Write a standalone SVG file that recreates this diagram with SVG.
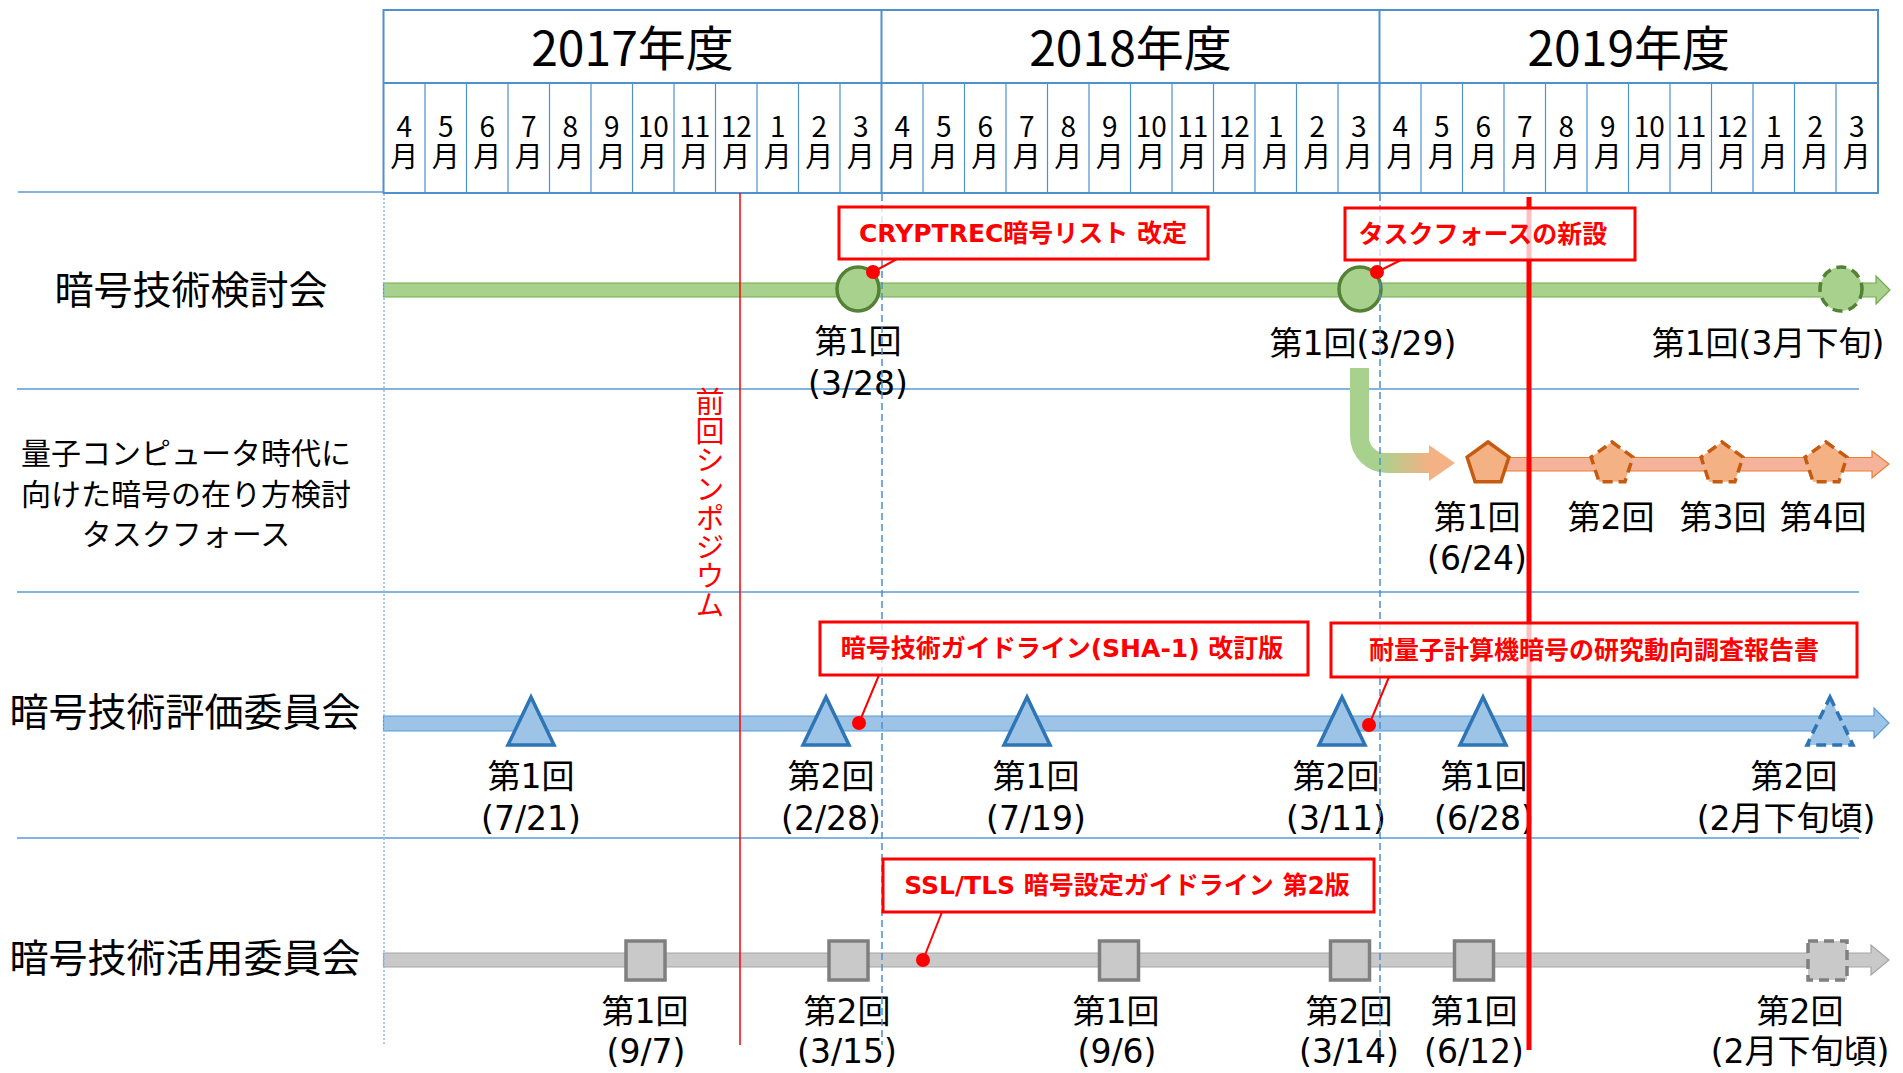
<svg xmlns="http://www.w3.org/2000/svg" width="1903" height="1073" viewBox="0 0 1903 1073">
<defs>
<style>
.hd{font-family:"Noto Sans CJK JP",sans-serif;fill:#000}
.yr{font-size:48px;text-anchor:middle}
.mo{font-size:28px;text-anchor:middle}
.ttl{font-family:"Noto Sans CJK JP",sans-serif;font-size:39px;text-anchor:middle;fill:#000}
.ttl2{font-family:"Noto Sans CJK JP",sans-serif;font-size:30px;text-anchor:middle;fill:#000}
.lb{font-family:"DejaVu Sans","Noto Sans CJK JP",sans-serif;font-size:33px;text-anchor:middle;fill:#000}
.co{font-family:"DejaVu Sans","Noto Sans CJK JP",sans-serif;font-size:25px;font-weight:bold;text-anchor:middle;fill:#ff0000}
.box{fill:#ffffff;fill-opacity:0.75;stroke:#ff0000;stroke-width:3}
.ptr{stroke:#ff0000;stroke-width:2;fill:none}
.dot{fill:#ff0000}
.grid{stroke:#4f90cf;fill:none}
.sep{stroke:#5b9bd5;stroke-width:1.6;fill:none}
.cir{fill:#a9d18e;stroke:#548235;stroke-width:3.5}
.pen{fill:#f4b183;stroke:#c55a11;stroke-width:3.5}
.tri{fill:#9dc3e6;stroke:#2e75b6;stroke-width:3.5}
.sq{fill:#c9c9c9;stroke:#7f7f7f;stroke-width:3.5}
.dsh{stroke-dasharray:10 6}
</style>
<linearGradient id="gArr" gradientUnits="userSpaceOnUse" x1="1380" y1="0" x2="1430" y2="0">
<stop offset="0" stop-color="#a9d18e"/>
<stop offset="1" stop-color="#f4b183"/>
</linearGradient>
<path id="pent" d="M0,-22 L20.9,-6.8 L12.9,17.8 L-12.9,17.8 L-20.9,-6.8 Z"/>
<path id="tri" d="M0,-48 L23,0 L-23,0 Z"/>
</defs>
<rect width="1903" height="1073" fill="#ffffff"/>

<g id="header">
<rect x="383.5" y="10" width="1494.5" height="183" class="grid" stroke-width="2"/>
<path class="grid" stroke-width="2" d="M383.5,83 H1878 M881.5,10 V193 M1379.5,10 V193"/>
<path class="grid" stroke-width="1.2" d="M425,83V193M466.5,83V193M508,83V193M549.5,83V193M591,83V193M632.5,83V193M674,83V193M715.5,83V193M757,83V193M798.5,83V193M840,83V193M923,83V193M964.5,83V193M1006,83V193M1047.5,83V193M1089,83V193M1130.5,83V193M1172,83V193M1213.5,83V193M1255,83V193M1296.5,83V193M1338,83V193M1421,83V193M1462.5,83V193M1504,83V193M1545.5,83V193M1587,83V193M1628.5,83V193M1670,83V193M1711.5,83V193M1753,83V193M1794.5,83V193M1836,83V193"/>
<g class="hd yr">
<text x="632.5" y="66">2017年度</text>
<text x="1130.5" y="66">2018年度</text>
<text x="1628.75" y="66">2019年度</text>
</g>
<g class="hd mo">
<text x="404.25" y="137">4<tspan x="404.25" dy="30">月</tspan></text>
<text x="445.75" y="137">5<tspan x="445.75" dy="30">月</tspan></text>
<text x="487.25" y="137">6<tspan x="487.25" dy="30">月</tspan></text>
<text x="528.75" y="137">7<tspan x="528.75" dy="30">月</tspan></text>
<text x="570.25" y="137">8<tspan x="570.25" dy="30">月</tspan></text>
<text x="611.75" y="137">9<tspan x="611.75" dy="30">月</tspan></text>
<text x="653.25" y="137">10<tspan x="653.25" dy="30">月</tspan></text>
<text x="694.75" y="137">11<tspan x="694.75" dy="30">月</tspan></text>
<text x="736.25" y="137">12<tspan x="736.25" dy="30">月</tspan></text>
<text x="777.75" y="137">1<tspan x="777.75" dy="30">月</tspan></text>
<text x="819.25" y="137">2<tspan x="819.25" dy="30">月</tspan></text>
<text x="860.75" y="137">3<tspan x="860.75" dy="30">月</tspan></text>
<text x="902.25" y="137">4<tspan x="902.25" dy="30">月</tspan></text>
<text x="943.75" y="137">5<tspan x="943.75" dy="30">月</tspan></text>
<text x="985.25" y="137">6<tspan x="985.25" dy="30">月</tspan></text>
<text x="1026.75" y="137">7<tspan x="1026.75" dy="30">月</tspan></text>
<text x="1068.25" y="137">8<tspan x="1068.25" dy="30">月</tspan></text>
<text x="1109.75" y="137">9<tspan x="1109.75" dy="30">月</tspan></text>
<text x="1151.25" y="137">10<tspan x="1151.25" dy="30">月</tspan></text>
<text x="1192.75" y="137">11<tspan x="1192.75" dy="30">月</tspan></text>
<text x="1234.25" y="137">12<tspan x="1234.25" dy="30">月</tspan></text>
<text x="1275.75" y="137">1<tspan x="1275.75" dy="30">月</tspan></text>
<text x="1317.25" y="137">2<tspan x="1317.25" dy="30">月</tspan></text>
<text x="1358.75" y="137">3<tspan x="1358.75" dy="30">月</tspan></text>
<text x="1400.25" y="137">4<tspan x="1400.25" dy="30">月</tspan></text>
<text x="1441.75" y="137">5<tspan x="1441.75" dy="30">月</tspan></text>
<text x="1483.25" y="137">6<tspan x="1483.25" dy="30">月</tspan></text>
<text x="1524.75" y="137">7<tspan x="1524.75" dy="30">月</tspan></text>
<text x="1566.25" y="137">8<tspan x="1566.25" dy="30">月</tspan></text>
<text x="1607.75" y="137">9<tspan x="1607.75" dy="30">月</tspan></text>
<text x="1649.25" y="137">10<tspan x="1649.25" dy="30">月</tspan></text>
<text x="1690.75" y="137">11<tspan x="1690.75" dy="30">月</tspan></text>
<text x="1732.25" y="137">12<tspan x="1732.25" dy="30">月</tspan></text>
<text x="1773.75" y="137">1<tspan x="1773.75" dy="30">月</tspan></text>
<text x="1815.25" y="137">2<tspan x="1815.25" dy="30">月</tspan></text>
<text x="1856.75" y="137">3<tspan x="1856.75" dy="30">月</tspan></text>
</g>
</g>

<g id="row-lines">
<path class="sep" stroke-width="2" d="M18,192 H383.5"/>
<path class="sep" d="M17,389 H1859 M17,592 H1859 M17,838 H1859"/>
</g>

<g id="row-titles">
<text class="ttl" x="191" y="304">暗号技術検討会</text>
<text class="ttl2" x="186" y="464">量子コンピュータ時代に</text>
<text class="ttl2" x="186" y="505">向けた暗号の在り方検討</text>
<text class="ttl2" x="186" y="545">タスクフォース</text>
<text class="ttl" x="185" y="726">暗号技術評価委員会</text>
<text class="ttl" x="185" y="972">暗号技術活用委員会</text>
</g>

<g id="connectors">
<path id="bar-kentokai" d="M383.5,283 H1876 V276 L1890,290 L1876,304 V297 H383.5 Z" fill="#a9d18e" stroke="#70ad47" stroke-width="1.2"/>
<path id="bend-arrow" d="M1350,368 H1369 V437 A16,16 0 0 0 1385,453 H1429 V445 L1455,463 L1429,481 V473 H1387 A37,37 0 0 1 1350,436 Z" fill="url(#gArr)"/>
<path id="bar-tf" d="M1490,457.5 H1872 V451 L1889,464 L1872,478 V471 H1490 Z" fill="#f4b39a" stroke="#ed7d31" stroke-width="1.2"/>
<path id="bar-hyoka" d="M383.5,716 H1874 V708 L1889,723 L1874,738 V731 H383.5 Z" fill="#9dc3e6" stroke="#5b9bd5" stroke-width="1.2"/>
<path id="bar-katsuyo" d="M383.5,953 H1871 V945 L1889,960 L1871,975 V967 H383.5 Z" fill="#c9c9c9" stroke="#a5a5a5" stroke-width="1.2"/>
</g>

<g id="kentokai-nodes">
<g id="k1"><ellipse class="cir" cx="858" cy="289" rx="21" ry="22"/>
<text class="lb" x="858" y="353">第1回</text><text class="lb" x="858" y="395">(3/28)</text></g>
<g id="k2"><ellipse class="cir" cx="1360" cy="289" rx="21" ry="22"/>
<text class="lb" x="1363" y="355">第1回(3/29)</text></g>
<g id="k3"><ellipse class="cir dsh" cx="1841" cy="289" rx="21" ry="22"/>
<text class="lb" x="1768" y="355">第1回(3月下旬)</text></g>
</g>

<g id="tf-nodes">
<g id="t1"><use href="#pent" class="pen" x="1488" y="464"/>
<text class="lb" x="1477" y="529">第1回</text><text class="lb" x="1477" y="570">(6/24)</text></g>
<g id="t2"><use href="#pent" class="pen dsh" x="1612" y="464"/><text class="lb" x="1611" y="529">第2回</text></g>
<g id="t3"><use href="#pent" class="pen dsh" x="1722" y="464"/><text class="lb" x="1723" y="529">第3回</text></g>
<g id="t4"><use href="#pent" class="pen dsh" x="1826" y="464"/><text class="lb" x="1823" y="529">第4回</text></g>
</g>

<g id="hyoka-nodes">
<g id="h1"><use href="#tri" class="tri" x="531" y="745"/><text class="lb" x="531" y="788">第1回</text><text class="lb" x="531" y="830">(7/21)</text></g>
<g id="h2"><use href="#tri" class="tri" x="826" y="745"/><text class="lb" x="831" y="788">第2回</text><text class="lb" x="831" y="830">(2/28)</text></g>
<g id="h3"><use href="#tri" class="tri" x="1027" y="745"/><text class="lb" x="1036" y="788">第1回</text><text class="lb" x="1036" y="830">(7/19)</text></g>
<g id="h4"><use href="#tri" class="tri" x="1342" y="745"/><text class="lb" x="1336" y="788">第2回</text><text class="lb" x="1336" y="830">(3/11)</text></g>
<g id="h5"><use href="#tri" class="tri" x="1483" y="745"/><text class="lb" x="1484" y="788">第1回</text><text class="lb" x="1484" y="830">(6/28)</text></g>
<g id="h6"><use href="#tri" class="tri dsh" x="1830" y="745"/><text class="lb" x="1794" y="788">第2回</text><text class="lb" x="1786" y="830">(2月下旬頃)</text></g>
</g>

<g id="katsuyo-nodes">
<g id="s1"><rect class="sq" x="626" y="941" width="39" height="39"/><text class="lb" x="645" y="1023">第1回</text><text class="lb" x="646" y="1063">(9/7)</text></g>
<g id="s2"><rect class="sq" x="829" y="941" width="39" height="39"/><text class="lb" x="847" y="1023">第2回</text><text class="lb" x="847" y="1063">(3/15)</text></g>
<g id="s3"><rect class="sq" x="1099.5" y="941" width="39" height="39"/><text class="lb" x="1116" y="1023">第1回</text><text class="lb" x="1117" y="1063">(9/6)</text></g>
<g id="s4"><rect class="sq" x="1330.5" y="941" width="39" height="39"/><text class="lb" x="1349" y="1023">第2回</text><text class="lb" x="1349" y="1063">(3/14)</text></g>
<g id="s5"><rect class="sq" x="1454.5" y="941" width="39" height="39"/><text class="lb" x="1474" y="1023">第1回</text><text class="lb" x="1474" y="1063">(6/12)</text></g>
<g id="s6"><rect class="sq dsh" x="1808" y="941" width="39" height="39"/><text class="lb" x="1800" y="1023">第2回</text><text class="lb" x="1800" y="1063">(2月下旬頃)</text></g>
</g>

<g id="guides">
<path d="M384,194 V1045" stroke="#8fbce6" stroke-width="1.5" stroke-dasharray="2 2" fill="none"/>
<path d="M882,194 V1045 M1380,194 V1047" stroke="#4a90d0" stroke-width="1.5" stroke-dasharray="7 4" fill="none"/>
<path d="M740,193 V1045" stroke="#ff0000" stroke-width="1.5" fill="none"/>
<path d="M1529,197 V1050" stroke="#ff0000" stroke-width="5" fill="none"/>
<text x="710" y="387" font-family="'Noto Sans CJK JP',sans-serif" font-size="29" fill="#ff0000" style="writing-mode:vertical-rl">前回シンポジウム</text>
</g>

<g id="callouts">
<g id="c1"><line class="ptr" x1="873" y1="272" x2="897" y2="259"/><rect class="box" x="839" y="207" width="369" height="52"/><text class="co" x="1023" y="242">CRYPTREC暗号リスト 改定</text><circle class="dot" cx="873" cy="272" r="7"/></g>
<g id="c2"><line class="ptr" x1="1377" y1="272" x2="1401" y2="260"/><rect class="box" x="1345" y="208" width="290" height="52"/><text class="co" x="1483" y="243">タスクフォースの新設</text><circle class="dot" cx="1377" cy="272" r="7"/></g>
<g id="c3"><line class="ptr" x1="859" y1="723" x2="879" y2="675"/><rect class="box" x="820" y="622" width="488" height="53"/><text class="co" x="1062" y="657">暗号技術ガイドライン(SHA-1) 改訂版</text><circle class="dot" cx="859" cy="723" r="7"/></g>
<g id="c4"><line class="ptr" x1="1369" y1="725" x2="1389" y2="677"/><rect class="box" x="1331" y="623" width="526" height="54"/><text class="co" x="1594" y="659" font-size="26">耐量子計算機暗号の研究動向調査報告書</text><circle class="dot" cx="1369" cy="725" r="7"/></g>
<g id="c5"><line class="ptr" x1="923" y1="960" x2="942" y2="912"/><rect class="box" x="883" y="859" width="491" height="53"/><text class="co" x="1127" y="894">SSL/TLS 暗号設定ガイドライン 第2版</text><circle class="dot" cx="923" cy="960" r="7"/></g>
</g>
</svg>
